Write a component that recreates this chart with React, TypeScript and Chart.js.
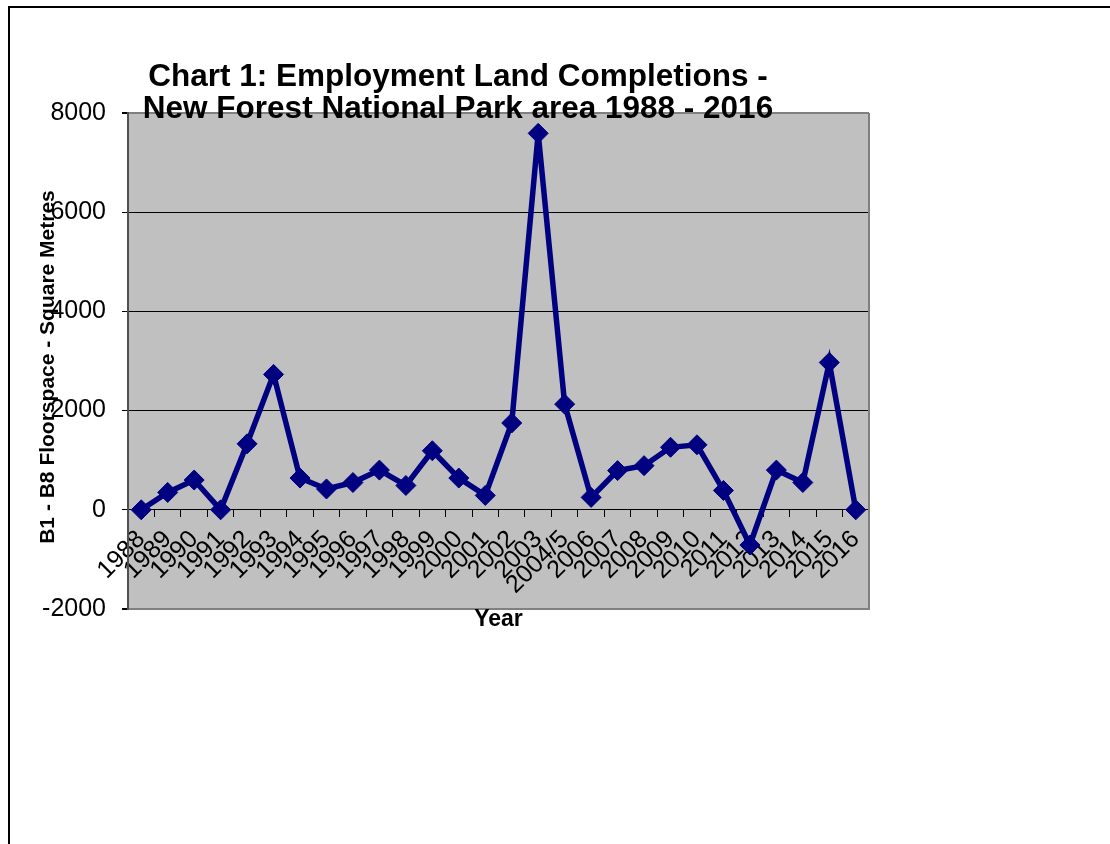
import React, { useEffect, useRef } from "react";
import { Chart, registerables } from "chart.js";

Chart.register(...registerables);

const years = [
  "1988", "1989", "1990", "1991", "1992", "1993", "1994", "1995", "1996", "1997",
  "1998", "1999", "2000", "2001", "2002", "2003", "2004/5", "2006", "2007", "2008",
  "2009", "2010", "2011", "2012", "2013", "2014", "2015", "2016",
];
const floorspace = [
  0, 350, 600, 0, 1330, 2730, 640, 420, 550, 800,
  490, 1190, 640, 290, 1750, 7590, 2130, 250, 790, 890,
  1260, 1310, 390, -710, 800, 550, 2970, 0,
];
const yMin = -2000;
const yMax = 8000;
const yStep = 2000;
const titleLines = [
  "Chart 1: Employment Land Completions -",
  "New Forest National Park area 1988 - 2016",
];
const yTitle = "B1 - B8 Floorspace - Square Metres";
const xTitle = "Year";

const FONT = "'Liberation Sans', Arial, sans-serif";

const decorPlugin = {
  id: "decor",
  beforeDraw(chart: any) {
    const { ctx, chartArea: a } = chart;
    ctx.save();
    ctx.fillStyle = "#C0C0C0";
    ctx.fillRect(a.left, a.top, a.right - a.left, a.bottom - a.top);
    ctx.restore();
  },
  beforeDatasetsDraw(chart: any) {
    const { ctx, chartArea: a } = chart;
    ctx.save();
    ctx.strokeStyle = "#808080";
    ctx.lineWidth = 2;
    ctx.beginPath();
    ctx.moveTo(a.right, a.top);
    ctx.lineTo(a.right, a.bottom + 1);
    ctx.stroke();
    ctx.restore();
  },
  afterDraw(chart: any) {
    const { ctx, chartArea: a } = chart;
    ctx.save();
    ctx.fillStyle = "#000";
    ctx.textAlign = "center";
    ctx.textBaseline = "middle";
    ctx.font = `bold 31.5px ${FONT}`;
    ctx.fillText(titleLines[0], 458, 77);
    ctx.fillText(titleLines[1], 458, 109);

    ctx.font = `bold 23px ${FONT}`;
    ctx.fillText(xTitle, (a.left + a.right) / 2, a.bottom + 11);

    ctx.translate(48, 367);
    ctx.rotate(-Math.PI / 2);
    ctx.font = `bold 21px ${FONT}`;
    ctx.fillText(yTitle, 0, 0);
    ctx.restore();
  },
};

export default function App() {
  const canvasRef = useRef<HTMLCanvasElement | null>(null);

  useEffect(() => {
    const canvas = canvasRef.current;
    if (!canvas) return;
    const chart = new Chart(canvas, {
      type: "line",
      data: {
        labels: years,
        datasets: [
          {
            data: floorspace,
            borderColor: "#000080",
            backgroundColor: "#000080",
            borderWidth: 5.5,
            pointStyle: "rectRot",
            pointRadius: 10,
            pointBorderWidth: 1,
            pointBackgroundColor: "#000080",
            pointBorderColor: "#000080",
            tension: 0,
            fill: false,
          },
        ],
      },
      options: {
        responsive: false,
        animation: false,
        devicePixelRatio: 1,
        layout: { padding: { top: 113, right: 47, bottom: 235, left: 0 } },
        plugins: {
          legend: { display: false },
          title: { display: false },
          tooltip: { enabled: false },
        },
        scales: {
          x: {
            type: "category",
            position: { y: 0 } as any,
            offset: true,
            afterFit(s: any) {
              s.height = 0;
            },
            grid: {
              display: true,
              offset: true,
              drawOnChartArea: false,
              drawTicks: true,
              tickLength: 7,
              tickColor: "#000",
              lineWidth: 1,
            },
            border: { display: true, color: "#000", width: 1 },
            ticks: {
              autoSkip: false,
              maxRotation: 45,
              minRotation: 45,
              padding: 8,
              color: "#000",
              font: { family: FONT, size: 25 },
            },
          },
          y: {
            type: "linear",
            min: yMin,
            max: yMax,
            afterFit(s: any) {
              s.width = 128;
            },
            ticks: {
              stepSize: yStep,
              padding: 16,
              color: "#000",
              font: { family: FONT, size: 25 },
              callback: (v: any) => String(v),
            },
            grid: {
              drawTicks: true,
              tickLength: 6,
              tickColor: "#000",
              color: (c: any) =>
                c.tick && (c.tick.value === yMax || c.tick.value === yMin) ? "#808080" : "#000",
              lineWidth: (c: any) =>
                c.tick && (c.tick.value === yMax || c.tick.value === yMin) ? 2 : 1,
            },
            border: { display: true, color: "#505050", width: 2 },
          },
        },
      },
      plugins: [decorPlugin],
    });
    return () => chart.destroy();
  }, []);

  return (
    <div
      style={{
        position: "fixed",
        left: 0,
        top: 0,
        width: 1110,
        height: 844,
        overflow: "hidden",
        background: "#fff",
      }}
    >
      <div
        style={{
          position: "absolute",
          left: 8,
          top: 6,
          width: 1200,
          height: 1000,
          border: "2px solid #000",
        }}
      />
      <canvas
        ref={canvasRef}
        width={916}
        height={844}
        style={{ position: "absolute", left: 0, top: 0, width: 916, height: 844 }}
      />
    </div>
  );
}
